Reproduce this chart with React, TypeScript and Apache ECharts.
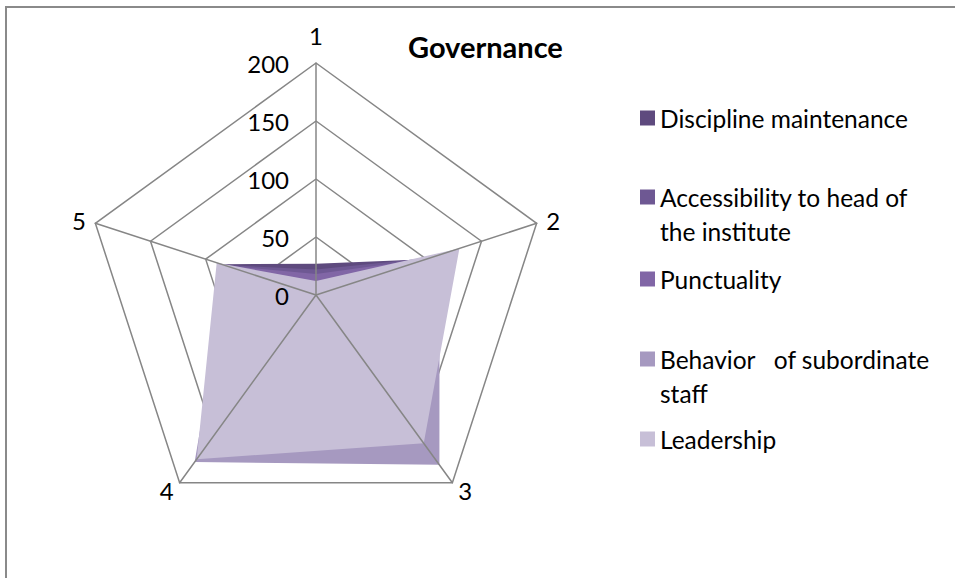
import React, { useEffect, useRef } from "react";
import * as echarts from "echarts";

const categories = ["1", "2", "3", "4", "5"];
const tickLabels = ["0", "50", "100", "150", "200"];
const seriesNames = [
  "Discipline maintenance",
  "Accessibility to head of the institute",
  "Punctuality",
  "Behavior   of subordinate staff",
  "Leadership",
];
const legendLabels = [
  "Discipline maintenance",
  "\nAccessibility to head of\nthe institute",
  "Punctuality",
  "\nBehavior   of subordinate\nstaff",
  "Leadership",
];
const disciplineValues = [27, 100, 170, 172, 86];
const accessibilityValues = [22, 104, 168, 170, 84];
const punctualityValues = [18, 102, 165, 172, 82];
const behaviorValues = [8, 112, 181, 178, 80];
const leadershipValues = [12, 130, 158, 175, 90];
const seriesColors = ["#5E4A7E", "#6E5893", "#8166A6", "#A699C0", "#C7BFD7"];

const FONT = "Lato, 'Open Sans', sans-serif";
const CX = 316;
const CY = 295;
const LABEL_MARGIN = 27;
const GRID_COLOR = "#868686";

export default function App() {
  const ref = useRef<HTMLDivElement>(null);
  useEffect(() => {
    if (!ref.current) return;
    const chart = echarts.init(ref.current, undefined, { renderer: "svg" });
    const allValues = [
      disciplineValues,
      accessibilityValues,
      punctualityValues,
      behaviorValues,
      leadershipValues,
    ];
    // ECharts places indicators counter-clockwise; Excel places them clockwise
    const order = [0, 4, 3, 2, 1];
    const swatchCenters = [118, 197, 279, 359, 439];
    const twoLine = [false, true, false, true, false];
    const baseRadar = {
      center: [CX, CY],
      radius: 232,
      startAngle: 90,
      shape: "polygon",
      splitNumber: 4,
    };
    chart.setOption({
      animation: false,
      backgroundColor: "transparent",
      title: {
        text: "Governance",
        left: 408,
        top: 32,
        padding: 0,
        textStyle: { fontSize: 29, fontWeight: "bold", fontFamily: FONT, color: "#000" },
      },
      legend: seriesNames.map((n, i) => ({
        data: [n],
        orient: "vertical",
        left: 640,
        top: swatchCenters[i] - (twoLine[i] ? 51 : 17),
        padding: 0,
        itemWidth: 15,
        itemHeight: 15,
        itemGap: 0,
        icon: "rect",
        selectedMode: false,
        formatter: () => legendLabels[i],
        textStyle: {
          fontSize: 24.5,
          lineHeight: 34,
          fontFamily: FONT,
          color: "#000",
        },
      })),
      radar: [
        {
          ...baseRadar,
          z: 0,
          nameGap: 10,
          axisName: { color: "#000", fontSize: 24, fontFamily: FONT },
          indicator: order.map((ci) => ({
            name: categories[ci],
            min: 0,
            max: 200,
            ...(ci === 0 ? { nameGap: 16 } : {}),
          })),
          splitLine: { lineStyle: { color: GRID_COLOR, width: 1.5 } },
          splitArea: { show: false },
          axisLine: { show: false },
          axisTick: { show: false },
          axisLabel: { show: false },
        },
        {
          ...baseRadar,
          z: 10,
          axisName: { show: false },
          indicator: order.map((ci) => ({
            name: categories[ci],
            min: 0,
            max: 200,
            ...(ci === 0
              ? {
                  axisLabel: {
                    show: true,
                    showMinLabel: true,
                    showMaxLabel: true,
                    color: "#000",
                    fontSize: 24,
                    fontFamily: FONT,
                    align: "right",
                    verticalAlign: "middle",
                    margin: LABEL_MARGIN,
                    formatter: (v: number) => tickLabels[Math.round(v / 50)] ?? String(v),
                  },
                }
              : {}),
          })),
          splitLine: { show: false },
          splitArea: { show: false },
          axisLine: { lineStyle: { color: GRID_COLOR, width: 1.5 } },
          axisTick: { show: false },
          axisLabel: { show: false },
        },
      ],
      series: [
        {
          type: "radar",
          radarIndex: 0,
          symbol: "none",
          silent: true,
          z: 2,
          lineStyle: { width: 0 },
          data: seriesNames.map((n, i) => ({
            name: n,
            value: order.map((ci) => allValues[i][ci]),
            itemStyle: { color: seriesColors[i] },
            lineStyle: { width: 0, color: seriesColors[i] },
            areaStyle: { color: seriesColors[i], opacity: 1 },
          })),
        },
      ],
    });
    return () => chart.dispose();
  }, []);
  return (
    <>
      <div
        style={{
          position: "absolute",
          left: 5,
          top: 6,
          width: 1000,
          height: 700,
          border: "2px solid #8a8a8a",
          boxSizing: "border-box",
        }}
      />
      <div
        ref={ref}
        style={{ position: "absolute", left: 0, top: 0, width: 955, height: 578 }}
      />
    </>
  );
}
